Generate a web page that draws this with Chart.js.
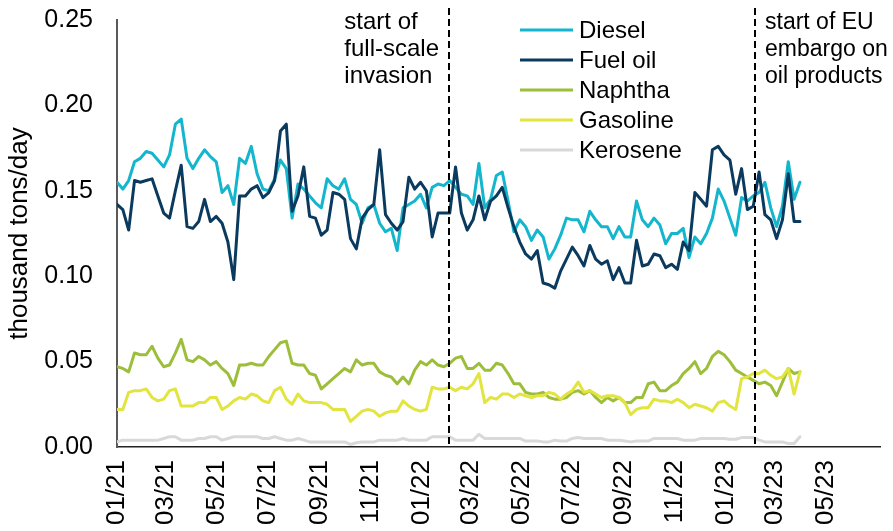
<!DOCTYPE html>
<html>
<head>
<meta charset="utf-8">
<script src="https://cdn.jsdelivr.net/npm/chart.js@4.4.0/dist/chart.umd.min.js"></script>
<style>
  html, body { margin: 0; padding: 0; background: #fff; }
  #wrap { width: 893px; height: 531px; position: relative; }
</style>
</head>
<body>
<div id="wrap"><canvas id="chart" width="893" height="531"></canvas></div>
<script>
// weekly observations, first week starting 01/01/2021
const startDate = '2021-01-01';

const diesel = [
    0.155, 0.151, 0.156, 0.167, 0.169, 0.173, 0.172, 0.168, 0.164, 0.171,
    0.189, 0.192, 0.169, 0.163, 0.169, 0.174, 0.170, 0.167, 0.149, 0.153,
    0.142, 0.169, 0.166, 0.176, 0.160, 0.151, 0.150, 0.157, 0.168, 0.163,
    0.134, 0.154, 0.151, 0.147, 0.143, 0.140, 0.157, 0.153, 0.151, 0.157,
    0.145,
    0.142, 0.131, 0.140, 0.142, 0.131, 0.126, 0.128, 0.115, 0.140, 0.142,
    0.144, 0.148, 0.140, 0.152, 0.154, 0.153, 0.156, 0.152, 0.148, 0.147,
    0.142, 0.166, 0.140, 0.145, 0.159, 0.161, 0.144, 0.126, 0.133, 0.129,
    0.121, 0.127, 0.123, 0.110, 0.116, 0.124, 0.134, 0.133, 0.133, 0.126,
    0.138, 0.133, 0.129, 0.129, 0.122, 0.129, 0.123, 0.123, 0.144, 0.133,
    0.129, 0.134, 0.130, 0.119, 0.125, 0.125, 0.128, 0.111, 0.123, 0.119,
    0.125, 0.134, 0.151, 0.144, 0.134, 0.124, 0.146, 0.144, 0.147, 0.149,
    0.155, 0.140, 0.129, 0.141, 0.167, 0.145, 0.155
];
const fuelOil = [
    0.142, 0.139, 0.127, 0.156, 0.155, 0.156, 0.157, 0.147, 0.137, 0.134,
    0.150, 0.165, 0.129, 0.128, 0.132, 0.145, 0.132, 0.135, 0.131, 0.120,
    0.098, 0.147, 0.147, 0.151, 0.153, 0.146, 0.149, 0.156, 0.185, 0.189,
    0.138, 0.147, 0.164, 0.135, 0.134, 0.124, 0.127, 0.149, 0.148, 0.145,
    0.122,
    0.116, 0.134, 0.139, 0.142, 0.174, 0.136, 0.131, 0.127, 0.132, 0.158,
    0.151, 0.155, 0.150, 0.123, 0.137, 0.137, 0.137, 0.164, 0.137, 0.127,
    0.133, 0.147, 0.133, 0.144, 0.147, 0.152, 0.140, 0.129, 0.120, 0.113,
    0.110, 0.115, 0.096, 0.095, 0.093, 0.103, 0.110, 0.117, 0.112, 0.106,
    0.118, 0.110, 0.107, 0.109, 0.098, 0.105, 0.096, 0.096, 0.121, 0.106,
    0.107, 0.113, 0.112, 0.105, 0.107, 0.104, 0.120, 0.115, 0.149, 0.145,
    0.141, 0.174, 0.176, 0.171, 0.168, 0.148, 0.163, 0.139, 0.141, 0.161,
    0.136, 0.133, 0.122, 0.133, 0.160, 0.132, 0.132
];
const naphtha = [
    0.047, 0.046, 0.044, 0.055, 0.054, 0.054, 0.059, 0.052, 0.047, 0.048,
    0.055, 0.063, 0.051, 0.050, 0.053, 0.051, 0.048, 0.050, 0.046, 0.043,
    0.036, 0.048, 0.048, 0.049, 0.048, 0.048, 0.053, 0.057, 0.061, 0.062,
    0.049, 0.048, 0.048, 0.043, 0.042, 0.034, 0.037, 0.040, 0.043, 0.046,
    0.044,
    0.051, 0.048, 0.049, 0.049, 0.044, 0.042, 0.041, 0.037, 0.041, 0.037,
    0.045, 0.050, 0.048, 0.051, 0.048, 0.047, 0.049, 0.052, 0.053, 0.046,
    0.046, 0.049, 0.045, 0.045, 0.049, 0.048, 0.043, 0.037, 0.037, 0.032,
    0.031, 0.031, 0.032, 0.029, 0.028, 0.028, 0.029, 0.032, 0.033, 0.031,
    0.033, 0.029, 0.026, 0.029, 0.027, 0.029, 0.026, 0.026, 0.029, 0.029,
    0.037, 0.038, 0.033, 0.033, 0.036, 0.038, 0.043, 0.046, 0.050, 0.043,
    0.046, 0.053, 0.056, 0.054, 0.050, 0.045, 0.043, 0.041, 0.039, 0.037,
    0.038, 0.036, 0.030, 0.038, 0.046, 0.043, 0.044
];
const gasoline = [
    0.022, 0.022, 0.032, 0.033, 0.033, 0.034, 0.029, 0.027, 0.028, 0.033,
    0.034, 0.024, 0.024, 0.024, 0.026, 0.026, 0.029, 0.029, 0.022, 0.024,
    0.027, 0.029, 0.028, 0.031, 0.030, 0.027, 0.026, 0.033, 0.035, 0.028,
    0.025, 0.031, 0.027, 0.026, 0.026, 0.026, 0.025, 0.022, 0.022, 0.022,
    0.015,
    0.018, 0.021, 0.022, 0.021, 0.018, 0.020, 0.021, 0.021, 0.027, 0.024,
    0.022, 0.021, 0.022, 0.035, 0.034, 0.034, 0.035, 0.033, 0.035, 0.034,
    0.037, 0.043, 0.026, 0.029, 0.028, 0.031, 0.031, 0.029, 0.031, 0.030,
    0.029, 0.030, 0.030, 0.032, 0.031, 0.028, 0.031, 0.033, 0.038, 0.032,
    0.033, 0.031, 0.029, 0.030, 0.030, 0.029, 0.026, 0.019, 0.022, 0.023,
    0.023, 0.028, 0.027, 0.027, 0.026, 0.028, 0.026, 0.023, 0.025, 0.024,
    0.023, 0.021, 0.026, 0.027, 0.024, 0.022, 0.040, 0.041, 0.043, 0.043,
    0.045, 0.042, 0.040, 0.041, 0.046, 0.031, 0.044
];
const kerosene = [
    0.003, 0.004, 0.004, 0.004, 0.004, 0.004, 0.004, 0.004, 0.005, 0.006,
    0.006, 0.004, 0.004, 0.004, 0.005, 0.005, 0.006, 0.006, 0.004, 0.005,
    0.006, 0.006, 0.006, 0.006, 0.006, 0.005, 0.005, 0.006, 0.005, 0.004,
    0.004, 0.005, 0.004, 0.003, 0.003, 0.003, 0.003, 0.003, 0.003, 0.003,
    0.0015,
    0.0025, 0.003, 0.003, 0.003, 0.004, 0.004, 0.004, 0.004, 0.005, 0.004,
    0.004, 0.004, 0.004, 0.006, 0.006, 0.006, 0.006, 0.004, 0.004, 0.004,
    0.004, 0.0075, 0.005, 0.005, 0.005, 0.005, 0.005, 0.005, 0.005, 0.0035,
    0.0035, 0.0035, 0.003, 0.003, 0.004, 0.0035, 0.0035, 0.005, 0.0055, 0.005,
    0.005, 0.005, 0.005, 0.004, 0.004, 0.004, 0.0035, 0.003, 0.0035, 0.0035,
    0.0035, 0.005, 0.005, 0.005, 0.005, 0.005, 0.004, 0.004, 0.004, 0.005,
    0.005, 0.005, 0.005, 0.005, 0.0045, 0.0045, 0.0055, 0.0055, 0.0055, 0.004,
    0.003, 0.003, 0.003, 0.003, 0.002, 0.002, 0.006
];

const seriesNames = ['Diesel', 'Fuel oil', 'Naphtha', 'Gasoline', 'Kerosene'];
const seriesValues = [diesel, fuelOil, naphtha, gasoline, kerosene];
const seriesColors = ['#13b6cd', '#0b3a5f', '#9dbe3a', '#e2e43f', '#d9d9d9'];

const xTickLabels = ['01/21', '03/21', '05/21', '07/21', '09/21', '11/21', '01/22', '03/22',
                     '05/22', '07/22', '09/22', '11/22', '01/23', '03/23', '05/23'];
const yTickValues = [0, 0.05, 0.10, 0.15, 0.20, 0.25];
const axisEndDate = '2023-07-05';

const eventDates = ['2022-02-03', '2023-02-05'];
const eventTexts = [['start of', 'full-scale', 'invasion'], ['start of EU', 'embargo on', 'oil products']];
const eventSides = ['left', 'right'];

const FONT = '"Liberation Sans", Arial, sans-serif';
const dayOf = s => (Date.parse(s) - Date.parse(startDate)) / 864e5;
const labelDay = l => {
    const [m, y] = l.split('/').map(Number);
    return (Date.UTC(2000 + y, m - 1, 1) - Date.parse(startDate)) / 864e5;
};
const noPad = s => { s.paddingTop = s.paddingBottom = s.paddingLeft = s.paddingRight = 0; };

const datasets = seriesNames.map((name, i) => ({
    label: name,
    data: seriesValues[i].map((v, k) => ({ x: k * 7, y: v })),
    borderColor: seriesColors[i],
    backgroundColor: seriesColors[i],
    borderWidth: 3,
    borderJoinStyle: 'round',
    borderCapStyle: 'round',
    pointRadius: 0,
    tension: 0,
    order: seriesNames.length - i
}));

const overlay = {
    id: 'overlay',
    afterDatasetsDraw(chart) {
        const { ctx, chartArea, scales: { x } } = chart;
        ctx.save();
        ctx.fillStyle = '#000';
        ctx.textBaseline = 'alphabetic';
        eventDates.forEach((d, i) => {
            const px = Math.round(x.getPixelForValue(dayOf(d)));
            ctx.strokeStyle = '#000';
            ctx.lineWidth = 2;
            ctx.setLineDash([7, 4]);
            ctx.beginPath();
            ctx.moveTo(px, 8);
            ctx.lineTo(px, chartArea.bottom);
            ctx.stroke();
            ctx.font = (eventSides[i] === 'left' ? '24px ' : '23px ') + FONT;
            const w = Math.max(...eventTexts[i].map(t => ctx.measureText(t).width));
            const tx = eventSides[i] === 'left' ? px - 10 - w : px + 10;
            ctx.textAlign = 'left';
            eventTexts[i].forEach((t, k) => ctx.fillText(t, tx, 29 + 27 * k));
        });

        // legend
        ctx.font = '24px ' + FONT;
        ctx.setLineDash([]);
        ctx.textBaseline = 'middle';
        seriesNames.forEach((name, i) => {
            const y = 30 + 30 * i;
            ctx.strokeStyle = seriesColors[i];
            ctx.lineWidth = 3;
            ctx.beginPath();
            ctx.moveTo(520, y);
            ctx.lineTo(573, y);
            ctx.stroke();
            ctx.fillText(name, 579, y + 1);
        });
        ctx.restore();
    }
};

new Chart(document.getElementById('chart'), {
    type: 'line',
    data: { datasets: datasets },
    options: {
        responsive: false,
        animation: false,
        layout: { padding: { top: 20, right: 13, left: 0, bottom: 0 } },
        plugins: { legend: { display: false }, tooltip: { enabled: false } },
        scales: {
            x: {
                type: 'linear',
                min: 0,
                max: dayOf(axisEndDate),
                grid: { display: false, drawTicks: false },
                border: { display: true, color: '#222', width: 1.5 },
                afterBuildTicks: s => { s.ticks = xTickLabels.map(l => ({ value: labelDay(l) })); },
                afterFit: s => { s.height = 84; noPad(s); },
                ticks: {
                    autoSkip: false,
                    maxRotation: 90,
                    minRotation: 90,
                    padding: 13,
                    color: '#000',
                    font: { family: FONT, size: 26 },
                    callback: (v, i) => xTickLabels[i]
                }
            },
            y: {
                min: 0,
                max: 0.25,
                grid: { display: false, drawTicks: false },
                border: { display: true, color: '#595959', width: 2 },
                afterBuildTicks: s => { s.ticks = yTickValues.map(v => ({ value: v })); },
                afterFit: s => { s.width = 117; noPad(s); },
                title: {
                    display: true,
                    text: 'thousand tons/day',
                    color: '#000',
                    font: { family: FONT, size: 26 },
                    padding: { top: 4, bottom: 0 }
                },
                ticks: {
                    padding: 24,
                    color: '#000',
                    font: { family: FONT, size: 25 },
                    callback: v => v.toFixed(2)
                }
            }
        }
    },
    plugins: [overlay]
});
</script>
</body>
</html>
